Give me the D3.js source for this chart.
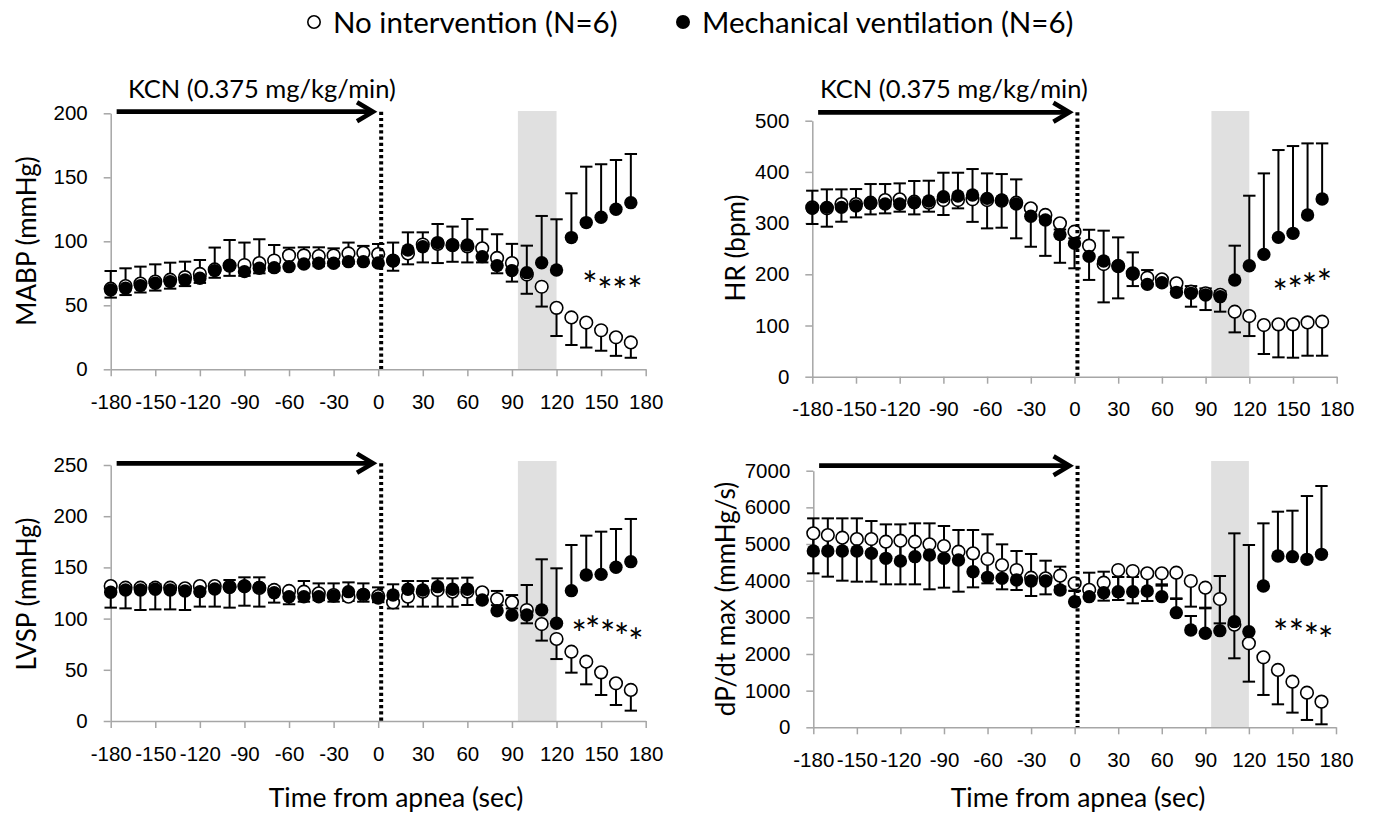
<!DOCTYPE html>
<html>
<head>
<meta charset="utf-8">
<script src="https://cdn.jsdelivr.net/npm/d3@7"></script>
<style>
  body { margin: 0; background: #fff; }
  svg { font-family: Lato, "Open Sans", sans-serif; }
</style>
</head>
<body>
<svg id="chart" width="1373" height="817"></svg>
<script>
// time from apnea (sec), one point every 10 s
const times = [-180, -170, -160, -150, -140, -130, -120, -110, -100, -90, -80, -70, -60, -50, -40, -30, -20, -10,
               0, 10, 20, 30, 40, 50, 60, 70, 80, 90, 100, 110, 120, 130, 140, 150, 160, 170];
const xTicks = [-180, -150, -120, -90, -60, -30, 0, 30, 60, 90, 120, 150, 180];

// MABP (mmHg)
const mabpNone   = [63, 65, 67, 68.5, 70, 72, 74.5, 78, 81, 81.5, 83, 85, 89, 89, 88.5, 89, 90.5, 91,
                    90, 85, 90.5, 97.5, 98, 97, 96, 94.5, 87, 83, 74, 64.5, 48, 40.5, 36.5, 30.5, 25, 21];
const mabpNoneSd = [7, 7, 7, 7, 7, 7, 7, 6.5, 8, 8.5, 8, 8, 8, 8, 8, 8, 8, 8,
                    8, 8, 8.5, 14, 15, 13, 12.5, 11, 12, 14.5, 15, 15.5, 22, 21.5, 19.5, 16, 14.5, 12];
const mabpVent   = [62, 63.3, 65.4, 67.2, 68.5, 69.8, 71.1, 77.1, 81, 76.3, 78.9, 79.4, 80.2, 82.3, 82.8, 82.8, 84.1, 84.1,
                    83, 84.6, 93.2, 95.8, 99, 97.1, 97.1, 88, 81, 77.1, 75.5, 83.3, 77.6, 102.9, 114.6, 118.8, 125, 130.2];
const mabpVentSd = [14.8, 15.6, 14.8, 14.8, 14.8, 14.3, 14.3, 18, 20, 22.7, 22.7, 17.7, 14.8, 13, 12.5, 11.7, 14.9, 12.3,
                    14.9, 14.4, 13.8, 11.2, 14.5, 14.4, 20.3, 21.4, 24.5, 20.9, 21.1, 36.5, 39.6, 34.6, 43.7, 41.4, 38.5, 38];
const mabpStars  = [[142.5, 71.3], [152.6, 66.6], [162.6, 66.6], [172.7, 67.4]];

// HR (bpm)
const hrNone   = [330.7, 328.8, 337.2, 337.2, 339.8, 345, 346.4, 341.8, 339.8, 345, 345, 346.4, 345, 343.8, 339.8, 328.8, 316, 299.5,
                  283.2, 256, 220, 216, 201.8, 193.4, 190.1, 182.3, 166, 162.8, 160, 127, 118.5, 100.9, 102.2, 102.2, 106.1, 107.4];
const hrNoneSd = [32.5, 35.8, 34.5, 26, 22.8, 26, 24.1, 24.8, 17.5, 29.2, 16.2, 44, 55.3, 52.8, 69.5, 75, 80, 77,
                  71.5, 67, 74.8, 63, 24.8, 12, 12, 10, 29.3, 32.6, 33, 40.4, 39.1, 56.6, 64.4, 65.1, 65.1, 66.4];
const hrVent   = [328.8, 330.7, 330.7, 333.3, 338.5, 337.2, 337.2, 339.8, 343.1, 351.6, 352.9, 354.8, 348.3, 345.1, 337.2, 313.5, 306, 277.5,
                  260.4, 235, 225.9, 216.8, 200.5, 180.3, 183.6, 164.7, 162.8, 159.5, 156.3, 188.8, 216.8, 238.9, 272.1, 280, 315.8, 347];
const hrVentSd = [34.5, 35.2, 35.2, 33.2, 37.8, 39.1, 40.4, 42.4, 39.7, 46.8, 45.5, 50.8, 48.8, 50.7, 48.2, 12, 10, 10,
                  10, 52, 59.3, 55.3, 42.3, 28, 11.7, 8, 14.2, 13, 11, 67.1, 136.7, 158.2, 170.6, 170.5, 139.9, 108.7];
const hrStars  = [[141.2, 177.7], [151.5, 183.6], [161.3, 188.9], [171.6, 197.3]];

// LVSP (mmHg)
const lvspNone   = [131.8, 130.2, 130.2, 130.2, 130.2, 129.6, 131.8, 131.8, 131, 131.5, 130, 128, 127, 126.3, 124.7, 123, 121.4, 123,
                    122, 115.9, 121.4, 126.3, 127.9, 126.3, 126.3, 125.7, 119.1, 115.9, 108.4, 94.7, 80.1, 67.7, 57.9, 47.5, 36.8, 30.3];
const lvspNoneSd = [21.1, 20.2, 21.8, 21.2, 21.2, 21.2, 20.1, 20.1, 20.3, 18.9, 18.3, 12.4, 13, 9.8, 6.7, 6.5, 4.2, 6.5,
                    6, 6, 9.7, 14.6, 16.2, 14.6, 13, 8, 6, 6, 13, 16.2, 19.6, 20.5, 22.1, 22.1, 21.2, 20.2];
const lvspVent   = [125.7, 127.9, 127.9, 128.6, 127.9, 127, 126.3, 128.9, 130.5, 131.8, 130.5, 125.3, 121.4, 121.4, 121.4, 122, 126.3, 123.7,
                    120, 123, 128.6, 127.9, 131.2, 128.6, 128.6, 118.2, 107.7, 103.5, 103.5, 108.4, 95.4, 127.3, 142.6, 143.2, 150.1, 155.6];
const lvspVentSd = [5, 5, 5, 5, 5, 5, 5, 5, 7.2, 8.5, 9.8, 6, 6.5, 15.3, 13, 12.4, 9.1, 10.7,
                    10.5, 10.5, 8.1, 8.8, 8.1, 10.7, 11.4, 6, 19.3, 19.5, 29.3, 49.5, 53.7, 44.6, 38.4, 41.7, 37.4, 41.7];
const lvspStars  = [[135.3, 92], [144.3, 95.4], [154.4, 92], [163.8, 88.9], [173.4, 84]];

// dP/dt max (mmHg/s)
const dpdtNone   = [5291, 5245, 5173, 5136, 5136, 5064, 5091, 5064, 4991, 4945, 4791, 4745, 4591, 4427, 4291, 4082, 4064, 4136,
                    3927, 3750, 3945, 4291, 4264, 4200, 4200, 4218, 3991, 3809, 3500, 2800, 2291, 1909, 1564, 1245, 945, 700];
const dpdtNoneSd = [1091, 1136, 1173, 1163, 1163, 1164, 1191, 1164, 1227, 1136, 1091, 927, 664, 663, 546, 500, 437, 300,
                    209, 150, 490, 818, 882, 755, 300, 700, 700, 545, 664, 918, 1046, 1027, 937, 845, 745, 618];
const dpdtVent   = [4809, 4809, 4809, 4809, 4745, 4609, 4536, 4655, 4700, 4609, 4564, 4245, 4091, 4064, 4018, 3991, 3991, 3745,
                    3427, 3564, 3673, 3700, 3700, 3718, 3564, 3127, 2655, 2564, 2636, 2882, 2609, 3855, 4673, 4655, 4582, 4718];
const dpdtVentSd = [891, 891, 891, 891, 882, 927, 1000, 909, 864, 882, 818, 1137, 1173, 927, 791, 736, 554, 637,
                    300, 654, 572, 400, 400, 400, 300, 373, 381, 681, 1491, 2409, 2364, 1709, 1209, 1254, 1727, 1864];
const dpdtStars  = [[141.9, 2764], [152.7, 2764], [163, 2655], [172.9, 2582]];

class ApneaPanel {
    constructor(_config, _data) {
        this.config = {
            parentElement: _config.parentElement,
            left: _config.left,
            right: _config.right,
            top: _config.top,
            bottom: _config.bottom,
            yMax: _config.yMax,
            yTicks: _config.yTicks,
            yTitle: _config.yTitle,
            yTitlePos: _config.yTitlePos,
            bandTop: _config.bandTop,
            arrowY: _config.arrowY,
            kcnLabel: _config.kcnLabel || false,
            xTitlePos: _config.xTitlePos || null,
            markerR: 6.7,
            capHalf: 6.2
        }
        this.data = _data;

        this.initVis();
    }

    initVis() {
        let vis = this;

        vis.svg = d3.select(vis.config.parentElement);
        vis.chart = vis.svg.append('g');

        vis.xScale = d3.scaleLinear()
            .domain([-180, 180])
            .range([vis.config.left, vis.config.right]);

        vis.yScale = d3.scaleLinear()
            .domain([0, vis.config.yMax])
            .range([vis.config.bottom, vis.config.top]);

        vis.noneRows = times.map((t, i) => ({t: t, v: vis.data.none[i], sd: vis.data.noneSd[i]}));
        vis.ventRows = times.map((t, i) => ({t: t, v: vis.data.vent[i], sd: vis.data.ventSd[i]}));

        vis.renderVis();
    }

    renderVis() {
        let vis = this;
        let x = vis.xScale, y = vis.yScale;

        // gray window (95-120 s)
        vis.chart.append('rect')
            .attr('x', x(94))
            .attr('y', vis.config.bandTop)
            .attr('width', x(120) - x(94))
            .attr('height', vis.config.bottom - vis.config.bandTop)
            .attr('fill', '#e0e0e0');

        // axes
        let xAxis = d3.axisBottom(x).tickValues(xTicks).tickSize(7).tickSizeOuter(0).tickPadding(18)
            .tickFormat(d => String(d));
        let yAxis = d3.axisLeft(y).tickValues(vis.config.yTicks).tickSize(7).tickSizeOuter(0).tickPadding(16)
            .tickFormat(d => String(d));

        let gx = vis.chart.append('g')
            .attr('transform', `translate(0,${vis.config.bottom})`)
            .call(xAxis);
        let gy = vis.chart.append('g')
            .attr('transform', `translate(${vis.config.left},0)`)
            .call(yAxis);

        [gx, gy].forEach(g => {
            g.selectAll('.domain, .tick line').attr('stroke', '#a6a6a6').attr('stroke-width', 1.5);
            g.selectAll('.tick text').attr('fill', '#000').style('font-size', '20.5px');
        });

        // error bars: no intervention goes down, ventilation goes up
        let bars = vis.chart.append('g').attr('stroke', '#000').attr('stroke-width', 2);
        let addBars = (rows, sign) => {
            rows.forEach(d => {
                let end = y(d.v + sign * d.sd);
                bars.append('line')
                    .attr('x1', x(d.t)).attr('x2', x(d.t))
                    .attr('y1', y(d.v)).attr('y2', end);
                bars.append('line')
                    .attr('x1', x(d.t) - vis.config.capHalf).attr('x2', x(d.t) + vis.config.capHalf)
                    .attr('y1', end).attr('y2', end);
            });
        };
        addBars(vis.ventRows, 1);
        addBars(vis.noneRows, -1);

        vis.chart.append('g').selectAll('circle')
            .data(vis.noneRows)
            .join('circle')
                .attr('cx', d => x(d.t))
                .attr('cy', d => y(d.v))
                .attr('r', vis.config.markerR - 0.4)
                .attr('fill', '#fff')
                .attr('stroke', '#000')
                .attr('stroke-width', 1.6);

        vis.chart.append('g').selectAll('circle')
            .data(vis.ventRows)
            .join('circle')
                .attr('cx', d => x(d.t))
                .attr('cy', d => y(d.v))
                .attr('r', vis.config.markerR)
                .attr('fill', '#000');

        // apnea onset line
        vis.chart.append('line')
            .attr('x1', x(2)).attr('x2', x(2))
            .attr('y1', vis.config.arrowY).attr('y2', vis.config.bottom)
            .attr('stroke', '#000')
            .attr('stroke-width', 4)
            .attr('stroke-dasharray', '3.2,3');

        // KCN infusion arrow
        let ax0 = x(-176), ax1 = x(-3.5), ay = vis.config.arrowY;
        vis.chart.append('line')
            .attr('x1', ax0).attr('x2', ax1 - 2)
            .attr('y1', ay).attr('y2', ay)
            .attr('stroke', '#000')
            .attr('stroke-width', 4.8);
        vis.chart.append('path')
            .attr('d', `M${ax1 - 16},${ay - 9.5}L${ax1},${ay}L${ax1 - 16},${ay + 9.5}`)
            .attr('fill', 'none')
            .attr('stroke', '#000')
            .attr('stroke-width', 4.5);

        if (vis.config.kcnLabel) {
            vis.chart.append('text')
                .attr('x', vis.config.kcnLabel[0])
                .attr('y', vis.config.kcnLabel[1])
                .style('font-size', '25.5px')
                .text('KCN (0.375 mg/kg/min)');
        }

        // significance marks
        vis.chart.append('g').selectAll('text')
            .data(vis.data.stars)
            .join('text')
                .attr('x', d => x(d[0]))
                .attr('y', d => y(d[1]))
                .attr('dy', '0.56em')
                .attr('text-anchor', 'middle')
                .style('font-size', '36px')
                .text('*');

        vis.chart.append('text')
            .attr('transform', `translate(${vis.config.yTitlePos[0]},${vis.config.yTitlePos[1]}) rotate(-90)`)
            .attr('text-anchor', 'middle')
            .attr('dy', '0.35em')
            .style('font-size', '26px')
            .text(vis.config.yTitle);

        if (vis.config.xTitlePos) {
            vis.chart.append('text')
                .attr('x', vis.config.xTitlePos[0])
                .attr('y', vis.config.xTitlePos[1])
                .attr('text-anchor', 'middle')
                .style('font-size', '26.5px')
                .text('Time from apnea (sec)');
        }
    }
}

// legend
const svg = d3.select('#chart');
svg.append('circle').attr('cx', 314).attr('cy', 22).attr('r', 6.2)
    .attr('fill', '#fff').attr('stroke', '#000').attr('stroke-width', 1.6);
svg.append('text').attr('x', 333).attr('y', 33).style('font-size', '29.5px').text('No intervention (N=6)');
svg.append('circle').attr('cx', 683).attr('cy', 22).attr('r', 7).attr('fill', '#000');
svg.append('text').attr('x', 702).attr('y', 33).style('font-size', '29.5px').text('Mechanical ventilation (N=6)');

new ApneaPanel({
    parentElement: '#chart', left: 110.7, right: 645.7, top: 113.3, bottom: 369.3,
    yMax: 200, yTicks: [0, 50, 100, 150, 200], yTitle: 'MABP (mmHg)', yTitlePos: [27, 241],
    bandTop: 111, arrowY: 111.7, kcnLabel: [128, 98]
}, {none: mabpNone, noneSd: mabpNoneSd, vent: mabpVent, ventSd: mabpVentSd, stars: mabpStars});

new ApneaPanel({
    parentElement: '#chart', left: 812.3, right: 1336.7, top: 120.7, bottom: 376.7,
    yMax: 500, yTicks: [0, 100, 200, 300, 400, 500], yTitle: 'HR (bpm)', yTitlePos: [736, 248],
    bandTop: 111, arrowY: 112.3, kcnLabel: [820, 98]
}, {none: hrNone, noneSd: hrNoneSd, vent: hrVent, ventSd: hrVentSd, stars: hrStars});

new ApneaPanel({
    parentElement: '#chart', left: 110.7, right: 645.7, top: 465, bottom: 721,
    yMax: 250, yTicks: [0, 50, 100, 150, 200, 250], yTitle: 'LVSP (mmHg)', yTitlePos: [27, 594],
    bandTop: 461, arrowY: 463.3, xTitlePos: [396, 807]
}, {none: lvspNone, noneSd: lvspNoneSd, vent: lvspVent, ventSd: lvspVentSd, stars: lvspStars});

new ApneaPanel({
    parentElement: '#chart', left: 813.3, right: 1336, top: 470.7, bottom: 727.3,
    yMax: 7000, yTicks: [0, 1000, 2000, 3000, 4000, 5000, 6000, 7000], yTitle: 'dP/dt max (mmHg/s)', yTitlePos: [726, 599],
    bandTop: 461, arrowY: 465.7, xTitlePos: [1078, 807]
}, {none: dpdtNone, noneSd: dpdtNoneSd, vent: dpdtVent, ventSd: dpdtVentSd, stars: dpdtStars});
</script>
</body>
</html>
